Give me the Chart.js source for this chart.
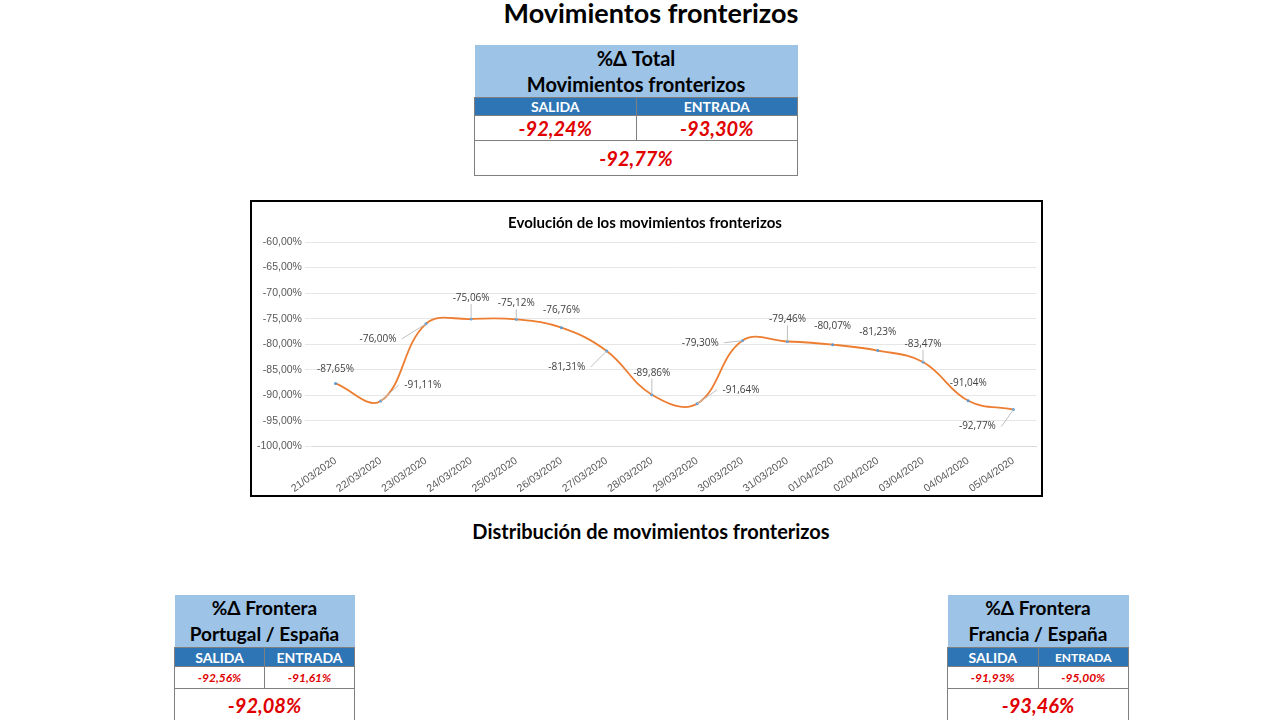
<!DOCTYPE html>
<html><head><meta charset="utf-8">
<script src="https://cdn.jsdelivr.net/npm/chart.js@4"></script>
<style>
body{margin:0;width:1280px;height:720px;background:#fff;font-family:Lato,"Open Sans",sans-serif;position:relative;overflow:hidden}
.t{position:absolute;font-weight:bold;text-align:center;color:#000}
table{position:absolute;border-collapse:collapse;font-weight:bold;text-align:center}
td{border:1px solid #7f7f7f;padding:0}
.hd{background:#9dc3e6;border:none}
.sub{background:#2e75b6;color:#fff;}
.red{color:#e00000;font-style:italic}
#box{position:absolute;left:250px;top:200px;width:789px;height:293px;border:2px solid #000}
</style></head><body>
<div class="t" style="left:0;width:1302px;top:-4px;font-size:27px">Movimientos fronterizos</div>
<table style="left:474px;top:45px;width:324px">
<tr><td colspan="2" class="hd" style="font-size:20px;height:50px;line-height:26px">%Δ Total<br>Movimientos fronterizos</td></tr>
<tr><td class="sub" style="font-size:14px;height:17px;width:50%">SALIDA</td><td class="sub" style="font-size:14px">ENTRADA</td></tr>
<tr><td class="red" style="font-size:20px;height:21px">-92,24%</td><td class="red" style="font-size:20px">-93,30%</td></tr>
<tr><td colspan="2" class="red" style="font-size:20px;height:34px">-92,77%</td></tr>
</table>
<div id="box"><canvas id="c" width="789" height="293"></canvas></div>
<div class="t" style="left:0;width:1302px;top:519px;font-size:20px">Distribución de movimientos fronterizos</div>
<table style="left:174px;top:595px;width:181px">
<tr><td colspan="2" class="hd" style="font-size:19px;height:50px;line-height:26px">%Δ Frontera<br>Portugal / España</td></tr>
<tr><td class="sub" style="font-size:14px;height:18px;width:50%">SALIDA</td><td class="sub" style="font-size:14px">ENTRADA</td></tr>
<tr><td class="red" style="font-size:12px;height:21px">-92,56%</td><td class="red" style="font-size:12px">-91,61%</td></tr>
<tr><td colspan="2" class="red" style="font-size:20px;height:32px">-92,08%</td></tr>
</table>
<table style="left:947px;top:595px;width:182px">
<tr><td colspan="2" class="hd" style="font-size:19px;height:50px;line-height:26px">%Δ Frontera<br>Francia / España</td></tr>
<tr><td class="sub" style="font-size:14px;height:18px;width:50%">SALIDA</td><td class="sub" style="font-size:12px">ENTRADA</td></tr>
<tr><td class="red" style="font-size:12px;height:21px">-91,93%</td><td class="red" style="font-size:12px">-95,00%</td></tr>
<tr><td colspan="2" class="red" style="font-size:20px;height:32px">-93,46%</td></tr>
</table>
<script>
const categories=["21/03/2020","22/03/2020","23/03/2020","24/03/2020","25/03/2020","26/03/2020","27/03/2020","28/03/2020","29/03/2020","30/03/2020","31/03/2020","01/04/2020","02/04/2020","03/04/2020","04/04/2020","05/04/2020"];
const values=[-87.65,-91.11,-76.00,-75.06,-75.12,-76.76,-81.31,-89.86,-91.64,-79.30,-79.46,-80.07,-81.23,-83.47,-91.04,-92.77];
const fmt=v=>v.toFixed(2).replace('.',',')+'%';
const offs=[[0,-14,0],[42,-16,1],[-48,15,1],[0,-21,1],[0,-16,1],[0,-18,0],[-40,16,1],[0,-22,1],[44,-14,1],[-42,2,1],[0,-22,1],[0,-18,0],[0,-18,0],[0,-18,1],[0,-18,0],[-36,17,1]];
const lbl={id:'lbl',afterDatasetsDraw(ch){
  const c=ch.ctx;const m=ch.getDatasetMeta(0);c.save();
  c.font='10px "Open Sans",sans-serif';c.fillStyle='#404040';c.textAlign='center';c.textBaseline='middle';
  m.data.forEach(function(p,i){
    const o=offs[i];const x=p.x+o[0],y=p.y+o[1];
    if(o[2]){
      let ex=x,ey=y;
      if(o[0]>25)ex=x-24;else if(o[0]<-25)ex=x+24;else ey=y+6;
      c.strokeStyle='#bfbfbf';c.lineWidth=1;c.beginPath();c.moveTo(p.x,p.y);c.lineTo(ex,ey);c.stroke();
    }
    c.fillText(fmt(values[i]),x,y);
  });
  c.restore();
}};
new Chart(document.getElementById('c'),{
  type:'line',
  data:{labels:categories,datasets:[{data:values,borderColor:'#ed7d31',borderWidth:1.8,tension:0.4,pointRadius:1.5,pointBorderWidth:0,pointBackgroundColor:'#5b9bd5'}]},
  options:{responsive:false,animation:false,layout:{padding:{left:2,right:5,bottom:0}},
    plugins:{legend:{display:false},tooltip:{enabled:false},
      title:{display:true,text:'Evolución de los movimientos fronterizos',color:'#000',font:{size:15,weight:'bold',family:'Lato'},padding:{top:12,bottom:10}}},
    scales:{
      x:{offset:true,grid:{display:false},border:{color:'#d9d9d9'},ticks:{padding:0,color:'#595959',font:{size:10.5},maxRotation:35,minRotation:35}},
      y:{min:-100,max:-60,ticks:{stepSize:5,color:'#595959',font:{size:10.5},callback:v=>fmt(v)},grid:{color:'#e6e6e6'},border:{display:false}}
    }
  },
  plugins:[lbl]
});
</script></body></html>
